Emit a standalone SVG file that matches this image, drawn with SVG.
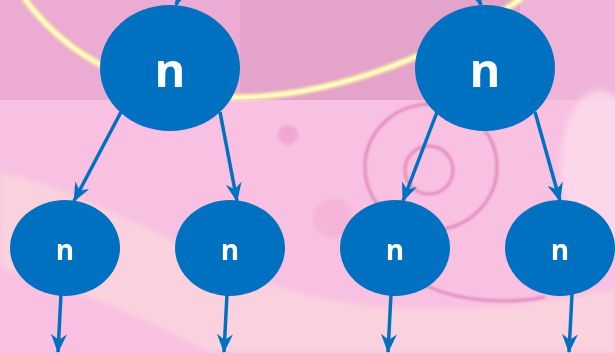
<svg xmlns="http://www.w3.org/2000/svg" width="615" height="353" viewBox="0 0 615 353">
  <style>
    .node { fill: #0070C0; }
    .lbl { fill: #FFFFFF; font-family: "Open Sans", "Liberation Sans", sans-serif; font-weight: 700; text-anchor: middle; }
    .big { font-size: 47px; }
    .small { font-size: 28px; }
    .edge { stroke: #0070C0; stroke-width: 3.5; fill: none; marker-end: url(#head); }
    .ring { fill: none; stroke: #DA78AE; stroke-width: 3; opacity: 0.7; }
  </style>
  <defs>
    <marker id="head" viewBox="0 0 19 16" markerUnits="userSpaceOnUse" markerWidth="19" markerHeight="16" refX="18" refY="8" orient="auto">
      <path d="M0,0 L19,8 L0,16 L6,8 Z" fill="#0070C0"/>
    </marker>
    <filter id="soft" x="-20%" y="-20%" width="140%" height="140%">
      <feGaussianBlur stdDeviation="3"/>
    </filter>
    <filter id="glow" x="-10%" y="-10%" width="120%" height="120%">
      <feGaussianBlur stdDeviation="1.5"/>
    </filter>
    <filter id="haze" x="-10%" y="-10%" width="120%" height="120%">
      <feGaussianBlur stdDeviation="0.8"/>
    </filter>
  </defs>

  <!-- backdrop -->
  <g id="backdrop">
    <rect x="0" y="0" width="615" height="353" fill="#F8C0E1"/>
    <rect x="0" y="0" width="240" height="100" fill="#EBABD2"/>
    <rect x="240" y="0" width="280" height="100" fill="#E4A3CA"/>
    <rect x="520" y="0" width="95" height="100" fill="#EFB4D8"/>
    <path d="M0,172 C120,200 220,280 330,300 C450,320 550,300 615,290 L615,353 L210,353 C150,320 60,282 0,268 Z" fill="#FBD6DD" opacity="0.85" filter="url(#soft)"/>
    <ellipse cx="600" cy="170" rx="40" ry="80" fill="#FCDDEB" opacity="0.8" filter="url(#soft)"/>
    <circle cx="288" cy="135" r="10" fill="#EFA2CC" opacity="0.8" filter="url(#glow)"/>
    <circle cx="333" cy="218" r="20" fill="#F3AFD4" opacity="0.6" filter="url(#glow)"/>
    <g filter="url(#haze)">
      <ellipse class="ring" cx="431" cy="167" rx="66" ry="63"/>
      <circle class="ring" cx="429" cy="170" r="24" stroke-width="2" opacity="0.4"/>
      <path class="ring" d="M427,286 C460,302 510,304 545,297"/>
    </g>
    <!-- pale yellow arc -->
    <path d="M24,-2 C80,75 170,100 250,97 C340,93 440,55 522,-2" fill="none" stroke="#FFF7A6" stroke-width="6" filter="url(#glow)"/>
    <path d="M24,-2 C80,75 170,100 250,97 C340,93 440,55 522,-2" fill="none" stroke="#FFFBC4" stroke-width="3"/>
  </g>

  <!-- connectors -->
  <g id="connectors">
    <line class="edge" x1="195" y1="-40" x2="176" y2="5"/>
    <line class="edge" x1="462" y1="-40" x2="481" y2="5"/>
    <line class="edge" x1="121" y1="112" x2="74" y2="201"/>
    <line class="edge" x1="220" y1="112" x2="237" y2="201"/>
    <line class="edge" x1="437" y1="112" x2="403" y2="201"/>
    <line class="edge" x1="535" y1="112" x2="560" y2="201"/>
    <line class="edge" x1="61" y1="294" x2="58" y2="352"/>
    <line class="edge" x1="227" y1="294" x2="224" y2="352"/>
    <line class="edge" x1="391" y1="294" x2="388" y2="352"/>
    <line class="edge" x1="572" y1="294" x2="569" y2="352"/>
  </g>

  <!-- nodes -->
  <g id="root-left">
    <ellipse class="node" cx="170" cy="68" rx="70" ry="63"/>
    <text class="lbl big" x="170" y="87">n</text>
  </g>
  <g id="root-right">
    <ellipse class="node" cx="485" cy="68" rx="70" ry="63"/>
    <text class="lbl big" x="485" y="87">n</text>
  </g>
  <g id="leaf-1">
    <ellipse class="node" cx="65" cy="248" rx="55" ry="48"/>
    <text class="lbl small" x="65" y="260">n</text>
  </g>
  <g id="leaf-2">
    <ellipse class="node" cx="230" cy="248" rx="55" ry="48"/>
    <text class="lbl small" x="230" y="260">n</text>
  </g>
  <g id="leaf-3">
    <ellipse class="node" cx="395" cy="248" rx="55" ry="48"/>
    <text class="lbl small" x="395" y="260">n</text>
  </g>
  <g id="leaf-4">
    <ellipse class="node" cx="560" cy="248" rx="55" ry="48"/>
    <text class="lbl small" x="560" y="260">n</text>
  </g>
</svg>
